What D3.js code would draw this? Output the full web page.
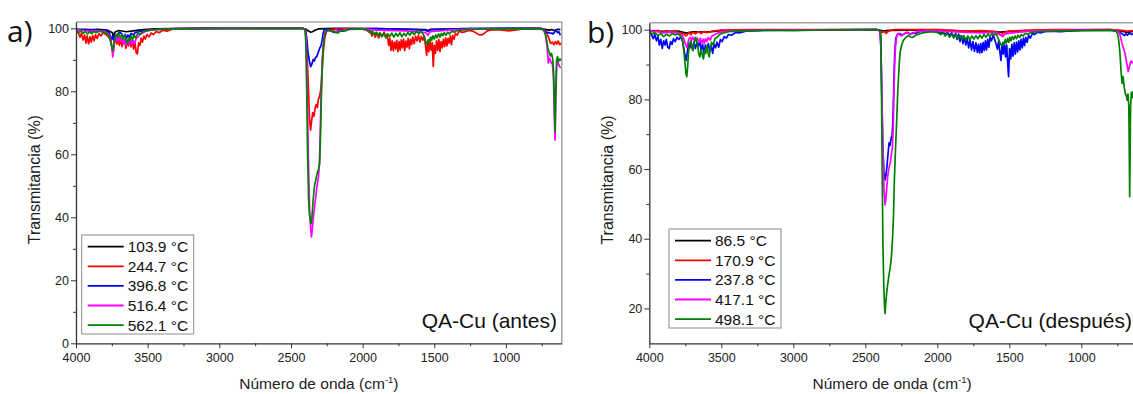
<!DOCTYPE html>
<html>
<head>
<meta charset="utf-8">
<script src="https://cdn.jsdelivr.net/npm/d3@7"></script>
<style>
  body { margin: 0; background: #fff; }
  svg { display: block; }
</style>
</head>
<body>
<svg id="chart" width="1133" height="394"></svg>
<script>
// ---- data (wavenumber cm-1, transmittance %) ----
const colors = ['#000000', '#ff0000', '#0000ff', '#ff00ff', '#008000'];
const labelsA = ['103.9 °C', '244.7 °C', '396.8 °C', '516.4 °C', '562.1 °C'];
const labelsB = ['86.5 °C', '170.9 °C', '237.8 °C', '417.1 °C', '498.1 °C'];
const xTicks = [4000, 3500, 3000, 2500, 2000, 1500, 1000];
const xMinor = [3750, 3250, 2750, 2250, 1750, 1250, 750];
const yTicksA = [0, 20, 40, 60, 80, 100];
const yMinorA = [10, 30, 50, 70, 90];
const yTicksB = [20, 40, 60, 80, 100];
const yMinorB = [30, 50, 70, 90];

// panel a) QA-Cu (antes)
const a103 = [[4000,99.6],[3950,99.7],[3900,99.5],[3850,99.7],[3780,99.4],[3745,98.6],[3737,97.2],[3728,98.8],[3700,99.3],[3650,98.9],[3600,99.2],[3550,99.5],[3450,99.8],[3200,100],[2420,100],[2395,99.7],[2380,99.2],[2365,98.8],[2350,98.9],[2335,99.3],[2310,99.8],[2200,100],[1900,99.9],[1560,99.6],[1545,99.2],[1525,99.7],[1200,99.9],[760,100],[720,99.6],[700,99.4],[680,99.6],[660,99.2],[640,99.7],[620,99.6]];
const a244 = [[4000,99.4],[3985,98.6],[3972,97.2],[3962,98.4],[3950,96.3],[3940,97.9],[3930,95.3],[3922,97.6],[3912,95.1],[3902,97.3],[3893,95.6],[3884,97.7],[3874,96.0],[3864,97.9],[3852,96.8],[3840,98.3],[3826,97.6],[3810,98.6],[3790,98.0],[3772,97.2],[3758,96.0],[3748,93.8],[3740,92.2],[3733,95.4],[3724,96.9],[3715,95.0],[3706,96.7],[3697,94.6],[3688,96.6],[3679,94.2],[3670,96.1],[3661,95.9],[3652,93.6],[3643,96.0],[3634,94.4],[3625,96.4],[3616,94.1],[3607,96.1],[3598,93.4],[3590,95.8],[3580,92.3],[3572,91.9],[3563,95.4],[3554,94.6],[3545,96.9],[3536,95.6],[3526,97.5],[3516,96.6],[3505,98.0],[3490,97.3],[3475,98.5],[3460,98.0],[3440,99.0],[3420,98.6],[3395,99.4],[3365,99.1],[3330,99.7],[3200,99.9],[3000,100],[2420,100],[2398,99.5],[2388,93],[2378,81],[2370,71],[2363,67.7],[2356,70.5],[2348,73.2],[2340,72.0],[2332,74.5],[2324,75.8],[2316,74.9],[2308,77.6],[2300,78.4],[2293,80.2],[2286,84],[2279,89],[2272,93.8],[2263,97.2],[2252,98.9],[2230,99.6],[2180,99.8],[2050,99.9],[1975,99.6],[1960,98.9],[1948,99.4],[1935,97.6],[1925,98.8],[1912,97.2],[1900,98.6],[1888,96.9],[1876,98.3],[1862,97.5],[1850,98.8],[1838,97.0],[1828,98.2],[1818,94.6],[1810,96.8],[1802,93.0],[1794,96.0],[1786,92.8],[1778,95.6],[1770,93.4],[1762,96.2],[1754,92.6],[1746,95.8],[1738,93.1],[1730,96.3],[1722,93.8],[1714,96.6],[1706,92.9],[1698,95.9],[1690,94.0],[1682,96.8],[1674,93.5],[1666,96.5],[1658,94.8],[1650,97.2],[1640,95.1],[1630,97.5],[1620,96.0],[1610,97.8],[1600,95.6],[1590,97.4],[1580,96.2],[1570,97.6],[1560,94.0],[1553,91.4],[1546,95.8],[1538,92.6],[1530,96.2],[1522,93.1],[1514,95.4],[1507,87.9],[1500,94.6],[1492,92.0],[1484,96.0],[1476,93.0],[1468,96.4],[1460,92.6],[1452,95.8],[1444,93.8],[1436,96.6],[1428,94.2],[1420,97.0],[1412,94.4],[1404,96.8],[1396,95.3],[1388,97.6],[1380,94.8],[1372,97.8],[1362,96.5],[1352,98.4],[1340,97.8],[1328,99.0],[1300,98.7],[1260,99.3],[1230,99.1],[1210,98.6],[1190,98.0],[1170,97.9],[1150,98.4],[1130,99.2],[1100,99.5],[1050,99.6],[980,99.2],[940,99.4],[880,99.8],[760,99.9],[730,99.5],[715,98.6],[700,96.8],[688,95.2],[676,95.6],[665,94.8],[655,95.8],[645,95.0],[635,96.0],[625,94.8],[615,95.3]];
const a396 = [[4000,99.7],[3950,99.5],[3900,99.6],[3850,99.4],[3800,99.3],[3770,98.8],[3760,97.4],[3752,96.4],[3744,97.6],[3736,96.2],[3728,97.8],[3718,96.6],[3708,98.2],[3695,98.8],[3680,98.2],[3668,97.0],[3658,98.1],[3648,96.8],[3638,97.9],[3628,97.2],[3616,98.4],[3600,97.9],[3585,98.7],[3560,98.9],[3520,99.3],[3450,99.7],[3300,99.9],[2420,100],[2398,99.6],[2390,97],[2380,92],[2370,89.3],[2362,87.8],[2354,88.6],[2345,90.1],[2336,89.6],[2328,90.8],[2320,91.0],[2310,92.3],[2300,93.6],[2290,94.5],[2283,96.0],[2276,98.2],[2268,99.5],[2250,99.8],[2225,99.4],[2205,98.8],[2190,98.7],[2175,99.2],[2160,99.6],[2140,99.1],[2120,99.3],[2100,99.8],[1900,99.9],[1700,99.7],[1560,99.4],[1545,99.0],[1530,99.5],[1300,99.9],[800,100],[740,99.8],[725,99.0],[712,98.6],[700,98.7],[690,98.4],[680,98.5],[670,98.2],[660,98.8],[650,99.5],[640,98.6],[630,98.9],[620,97.8]];
const a516 = [[4000,99.5],[3950,99.3],[3900,99.0],[3850,99.2],[3800,99.0],[3770,98.0],[3758,96.5],[3750,94.0],[3744,90.9],[3738,93.5],[3730,96.2],[3720,97.4],[3710,96.0],[3700,97.3],[3690,95.8],[3680,96.8],[3670,95.0],[3660,96.4],[3650,94.6],[3640,96.2],[3630,95.0],[3620,96.5],[3610,94.8],[3600,96.0],[3590,95.2],[3580,96.8],[3565,97.5],[3545,98.3],[3520,98.9],[3480,99.4],[3400,99.7],[3200,99.9],[2420,100],[2400,99.6],[2393,96],[2386,80],[2378,58],[2370,42],[2362,36],[2357,33.8],[2352,36],[2346,39],[2340,41.5],[2334,44],[2328,46],[2322,48.5],[2316,50.5],[2308,53],[2302,56.5],[2296,66],[2290,78],[2282,90],[2272,96.5],[2262,98.8],[2245,99.3],[2220,99.0],[2200,99.2],[2180,98.8],[2160,99.3],[2130,99.6],[2000,99.8],[1900,99.4],[1700,99.2],[1560,98.6],[1545,97.8],[1530,98.9],[1400,99.4],[1200,99.8],[800,99.9],[740,99.6],[725,98.5],[712,94.0],[704,89.0],[695,90.5],[685,89.2],[675,88.5],[668,84],[662,72],[657,64.5],[652,78],[646,88],[638,89.5],[628,88.0],[618,87.4]];
const a562 = [[4000,99.3],[3980,98.6],[3965,99.2],[3950,98.4],[3935,99.0],[3920,98.2],[3905,98.9],[3890,98.3],[3875,99.0],[3860,98.6],[3840,99.1],[3810,98.8],[3785,98.4],[3770,97.6],[3760,96.0],[3752,94.5],[3745,93.0],[3738,94.2],[3730,96.6],[3720,98.0],[3710,97.4],[3700,98.3],[3690,97.0],[3680,98.0],[3670,96.6],[3660,97.8],[3650,96.2],[3642,95.2],[3634,96.8],[3625,96.0],[3615,97.6],[3605,96.4],[3595,97.8],[3585,97.0],[3570,98.4],[3550,98.2],[3530,99.0],[3500,99.3],[3450,99.6],[3300,99.8],[3100,100],[2420,100],[2402,99.6],[2396,95],[2390,80],[2384,60],[2377,46],[2370,40.5],[2363,38.5],[2358,38.0],[2352,41],[2346,45],[2340,48],[2334,50.5],[2328,51.5],[2322,53],[2314,54.5],[2306,55.5],[2300,57],[2294,66],[2288,78],[2280,90],[2270,96.5],[2258,99.0],[2240,99.5],[2210,99.1],[2190,98.7],[2175,98.5],[2160,99.0],[2140,99.4],[2120,99.2],[2090,99.7],[2000,99.8],[1960,99.3],[1945,98.4],[1932,99.1],[1918,97.9],[1905,98.8],[1892,97.6],[1880,98.6],[1866,97.3],[1852,98.5],[1838,97.0],[1824,98.2],[1810,97.4],[1796,98.5],[1782,97.2],[1768,98.4],[1754,97.5],[1740,98.6],[1726,97.3],[1712,98.4],[1698,97.6],[1684,98.7],[1670,97.8],[1656,98.9],[1640,98.0],[1624,99.0],[1608,98.3],[1592,99.1],[1576,98.0],[1566,96.8],[1558,95.4],[1550,95.0],[1542,96.4],[1534,95.6],[1526,97.2],[1518,96.2],[1510,97.6],[1500,96.6],[1490,97.9],[1480,97.0],[1470,98.2],[1460,97.2],[1450,98.4],[1440,97.6],[1430,98.6],[1418,97.8],[1406,98.8],[1394,98.2],[1380,99.0],[1360,98.8],[1340,99.3],[1300,99.5],[1200,99.7],[1000,99.8],[800,99.9],[740,99.7],[725,98.2],[715,96.0],[706,93.2],[698,92.6],[690,91.2],[682,92.0],[674,90.5],[667,86],[662,76],[657,67.2],[652,80],[646,90.2],[640,91.0],[632,89.5],[624,90.3],[615,89.8]];

// panel b) QA-Cu (después)
const b86 = [[4000,99.7],[3900,99.5],[3800,99.6],[3740,99.0],[3700,99.4],[3600,99.3],[3500,99.7],[3300,99.9],[2420,100],[2370,99.6],[2340,99.8],[2000,99.9],[1800,99.6],[1560,99.3],[1500,99.5],[1300,99.8],[800,100],[720,99.6],[680,99.2],[640,99.5],[600,99.4]];
const b170 = [[4000,99.8],[3970,99.4],[3940,99.8],[3910,99.2],[3880,99.7],[3850,99.3],[3820,99.6],[3790,99.1],[3760,98.8],[3745,98.2],[3735,98.6],[3725,99.2],[3710,98.5],[3700,99.3],[3680,98.8],[3660,99.4],[3640,98.9],[3620,99.5],[3600,99.1],[3560,99.6],[3500,99.9],[3300,100],[2420,100],[2400,99.7],[2385,99.2],[2370,99.5],[2355,98.9],[2340,99.6],[2300,100],[2000,100],[1900,99.8],[1800,99.6],[1700,99.7],[1600,99.5],[1570,99.0],[1560,98.4],[1550,98.7],[1540,99.2],[1500,99.6],[1400,99.8],[1200,100],[800,100],[720,99.8],[680,99.6],[640,99.7],[600,99.6]];
const b237 = [[4000,99.2],[3985,98.6],[3972,97.4],[3962,98.6],[3950,96.8],[3940,98.0],[3930,95.6],[3920,97.2],[3910,94.6],[3900,96.8],[3890,95.6],[3882,97.2],[3872,95.0],[3862,94.6],[3852,96.6],[3842,95.8],[3832,97.4],[3820,96.6],[3808,97.8],[3795,97.2],[3782,98.0],[3768,96.5],[3758,94.0],[3750,92.2],[3744,91.2],[3736,93.4],[3728,96.0],[3718,94.8],[3710,96.4],[3700,94.2],[3690,96.5],[3680,94.6],[3670,96.2],[3660,95.2],[3650,96.8],[3640,94.0],[3630,95.8],[3620,93.2],[3610,95.6],[3600,94.5],[3590,96.0],[3580,93.8],[3570,95.4],[3560,93.2],[3550,95.8],[3540,94.8],[3530,96.4],[3518,95.0],[3506,97.2],[3494,96.6],[3480,98.0],[3465,97.6],[3450,98.6],[3430,98.4],[3400,99.2],[3370,99.1],[3330,99.6],[3200,99.8],[3000,99.9],[2420,100],[2398,99.6],[2392,95],[2386,82],[2378,66],[2370,59],[2362,56.9],[2356,58.5],[2349,61],[2342,64.5],[2335,67.5],[2328,66.8],[2320,69],[2314,69.5],[2308,74],[2302,84],[2296,93],[2288,97.5],[2278,98.6],[2262,98.9],[2245,98.4],[2228,98.8],[2210,99.3],[2190,98.7],[2170,99.1],[2150,98.9],[2120,99.5],[2060,99.7],[2000,99.5],[1975,98.9],[1960,99.4],[1945,98.6],[1930,99.3],[1915,98.4],[1900,99.1],[1885,97.9],[1872,98.9],[1862,97.2],[1852,98.7],[1842,96.6],[1832,98.2],[1822,96.0],[1812,97.8],[1802,95.6],[1792,97.6],[1782,94.8],[1772,97.0],[1762,94.2],[1752,96.6],[1742,93.8],[1732,96.2],[1722,93.5],[1714,95.8],[1706,93.3],[1698,96.0],[1690,93.4],[1682,96.3],[1674,94.0],[1666,96.8],[1658,94.2],[1650,97.2],[1642,95.0],[1634,97.8],[1624,96.8],[1612,98.4],[1600,97.0],[1590,95.6],[1582,94.4],[1574,96.8],[1566,93.8],[1558,91.2],[1550,95.8],[1542,93.0],[1534,96.2],[1526,92.2],[1518,95.6],[1510,89.5],[1505,86.5],[1498,94.6],[1490,91.6],[1482,95.8],[1474,92.4],[1466,96.2],[1458,93.0],[1450,96.4],[1442,93.6],[1434,96.8],[1426,94.2],[1418,97.2],[1410,94.8],[1402,97.6],[1394,95.4],[1386,97.8],[1376,96.4],[1366,98.4],[1354,97.6],[1340,98.9],[1325,98.6],[1305,99.3],[1280,99.1],[1250,99.5],[1200,99.6],[1150,99.4],[1100,99.6],[1000,99.8],[800,99.9],[750,99.6],[730,99.1],[715,98.8],[700,98.3],[690,98.8],[680,98.4],[665,99.0],[650,98.6],[630,99.0],[610,98.8]];
const b417 = [[4000,99.6],[3950,99.4],[3900,99.1],[3850,99.3],[3800,99.0],[3770,98.4],[3758,97.0],[3748,95.8],[3740,95.0],[3734,95.6],[3726,97.2],[3716,97.8],[3706,97.0],[3698,97.9],[3688,97.0],[3676,96.8],[3666,97.6],[3656,96.4],[3646,97.5],[3636,96.2],[3626,97.3],[3618,96.0],[3610,97.4],[3600,96.6],[3590,97.8],[3578,97.0],[3565,98.2],[3545,98.6],[3520,99.1],[3480,99.5],[3400,99.7],[3200,99.9],[2420,100],[2398,99.6],[2392,96],[2386,84],[2378,66],[2370,54],[2363,49.7],[2357,51.5],[2350,55],[2344,58],[2338,59.7],[2332,61],[2326,61.8],[2318,64.5],[2312,66],[2306,72],[2302,80],[2297,89],[2290,95.5],[2282,98.0],[2272,98.9],[2260,98.5],[2248,98.2],[2235,98.7],[2220,99.1],[2200,99.0],[2180,98.7],[2160,99.2],[2130,99.5],[2050,99.7],[1900,99.4],[1800,99.2],[1700,99.1],[1600,99.2],[1560,98.5],[1545,98.0],[1530,98.8],[1450,99.2],[1350,99.6],[1200,99.8],[800,99.9],[750,99.6],[740,99.2],[731,98.5],[720,96.5],[710,95.0],[697,93.3],[687,91.0],[674,88.0],[665,89.5],[655,91.0],[645,90.5],[630,91.0],[615,90.2]];
const b498 = [[4000,99.3],[3980,98.8],[3960,99.1],[3940,98.3],[3920,98.9],[3900,98.0],[3880,98.7],[3860,98.2],[3840,98.9],[3820,98.5],[3800,98.8],[3780,98.0],[3768,96.8],[3758,93.0],[3750,89.5],[3745,87.2],[3740,86.5],[3734,89.0],[3728,93.5],[3720,95.8],[3712,96.8],[3704,95.2],[3696,94.0],[3688,96.2],[3680,97.8],[3672,97.0],[3664,95.4],[3656,93.0],[3648,92.2],[3640,94.4],[3632,92.8],[3624,91.6],[3616,94.0],[3608,93.2],[3600,95.4],[3592,93.4],[3584,92.2],[3576,94.6],[3568,96.4],[3556,95.6],[3544,97.4],[3530,97.8],[3512,98.6],[3490,99.0],[3450,99.4],[3400,99.6],[3200,99.8],[3000,99.7],[2800,99.9],[2420,100],[2398,99.8],[2392,99],[2388,85],[2383,60],[2378,40],[2372,27],[2367,21],[2363,18.6],[2358,21.5],[2352,24.3],[2346,26.5],[2340,28.2],[2334,30],[2328,31.5],[2322,33.5],[2317,35.8],[2311,40],[2305,45.4],[2298,57],[2290,66],[2282,74],[2274,83],[2266,89],[2259,93.2],[2248,95.6],[2236,96.9],[2222,97.6],[2213,98.0],[2200,98.3],[2185,97.9],[2170,97.8],[2155,98.3],[2135,98.6],[2110,99.0],[2080,99.2],[2040,99.4],[2000,99.2],[1975,98.6],[1960,99.1],[1945,98.2],[1930,98.9],[1915,97.8],[1900,98.7],[1886,97.6],[1872,98.6],[1858,97.4],[1844,98.4],[1830,97.2],[1816,98.3],[1802,97.0],[1788,98.2],[1774,97.1],[1760,98.2],[1746,97.3],[1732,98.3],[1718,97.4],[1704,98.4],[1690,97.6],[1676,98.6],[1662,97.8],[1648,98.8],[1634,98.0],[1620,99.0],[1606,98.4],[1592,98.9],[1578,97.6],[1568,96.6],[1560,95.8],[1552,95.3],[1544,96.4],[1536,95.8],[1528,97.2],[1520,96.2],[1512,97.5],[1504,96.4],[1496,97.8],[1488,96.8],[1480,98.0],[1470,97.2],[1460,98.2],[1450,97.4],[1440,98.4],[1428,97.8],[1416,98.6],[1404,98.2],[1390,98.9],[1370,98.7],[1350,99.2],[1300,99.4],[1200,99.6],[1000,99.7],[800,99.8],[760,99.6],[748,98.8],[741,97.2],[732,93.5],[724,88.2],[717,84.6],[710,86.5],[702,83.5],[694,81.6],[686,80.8],[682,79.8],[676,81.5],[670,78],[667,66],[664,52.1],[661,64],[658,78],[652,82],[646,80.5],[640,82.2],[630,81.0],[620,81.8],[610,80.6]];

const seriesA = [a103, a244, a396, a516, a562];
const seriesB = [b86, b170, b237, b417, b498];

const FONT = 'Liberation Sans, Arial, Helvetica, sans-serif';
const svg = d3.select('#chart');

function drawPanel(p) {
  const x = d3.scaleLinear().domain([4000, p.xEnd]).range([p.left, p.right]);
  const y = d3.scaleLinear().domain(p.yDomain).range([p.bottom, p.top]);

  const g = svg.append('g');

  g.append('clipPath').attr('id', p.id + '-clip')
    .append('rect')
    .attr('x', p.left).attr('y', p.top)
    .attr('width', p.right - p.left).attr('height', p.bottom - p.top);

  // frame (top + right in grey)
  g.append('path')
    .attr('d', 'M' + p.left + ',' + p.top + 'H' + p.right + 'V' + p.bottom)
    .attr('fill', 'none')
    .attr('stroke', '#a6a6a6')
    .attr('stroke-width', 1.5);

  const line = d3.line()
    .x(function (d) { return x(d[0]); })
    .y(function (d) { return y(d[1]); });

  g.append('g')
    .attr('clip-path', 'url(#' + p.id + '-clip)')
    .selectAll('path')
    .data(p.series)
    .enter().append('path')
    .attr('d', function (d) { return line(d); })
    .attr('fill', 'none')
    .attr('stroke', function (d, i) { return colors[i]; })
    .attr('stroke-width', 1.7)
    .attr('stroke-linejoin', 'round');

  // axes
  const xAxis = g.append('g')
    .attr('transform', 'translate(0,' + p.bottom + ')')
    .call(d3.axisBottom(x).tickValues(xTicks).tickFormat(d3.format('d'))
      .tickSize(5).tickSizeOuter(0).tickPadding(5));
  g.append('g')
    .attr('transform', 'translate(0,' + p.bottom + ')')
    .call(d3.axisBottom(x).tickValues(xMinor).tickFormat('').tickSize(3).tickSizeOuter(0))
    .select('.domain').remove();

  const yAxis = g.append('g')
    .attr('transform', 'translate(' + p.left + ',0)')
    .call(d3.axisLeft(y).tickValues(p.yTicks).tickSize(5).tickSizeOuter(0).tickPadding(2));
  g.append('g')
    .attr('transform', 'translate(' + p.left + ',0)')
    .call(d3.axisLeft(y).tickValues(p.yMinor).tickFormat('').tickSize(3).tickSizeOuter(0))
    .select('.domain').remove();

  g.selectAll('.domain').attr('stroke', '#333').attr('stroke-width', 1.3);
  g.selectAll('.tick line').attr('stroke', '#333');
  [xAxis, yAxis].forEach(function (a) {
    a.selectAll('text').attr('font-family', FONT).attr('font-size', 12.5).attr('fill', '#222');
  });

  // axis titles
  const xt = g.append('text')
    .attr('x', (p.left + p.right) / 2 + p.xTitleShift)
    .attr('y', 389)
    .attr('text-anchor', 'middle')
    .attr('font-family', FONT).attr('font-size', 15.5).attr('fill', '#222');
  xt.append('tspan').text('Número de onda (cm');
  xt.append('tspan').attr('font-size', 9.5).attr('dy', -6).text('-1');
  xt.append('tspan').attr('dy', 6).text(')');

  g.append('text')
    .attr('transform', 'translate(' + p.yTitleX + ',' + ((p.top + p.bottom) / 2 - 3) + ') rotate(-90)')
    .attr('text-anchor', 'middle')
    .attr('font-family', FONT).attr('font-size', 16).attr('fill', '#222')
    .text('Transmitancia (%)');

  // panel letter
  g.append('text')
    .attr('x', p.letterX).attr('y', p.letterY)
    .attr('font-family', 'Open Sans, DejaVu Sans, sans-serif')
    .attr('font-size', 30).attr('fill', '#111')
    .text(p.letter);

  // sample name
  g.append('text')
    .attr('x', p.nameX).attr('y', 328)
    .attr('text-anchor', 'end')
    .attr('font-family', FONT).attr('font-size', 21).attr('fill', '#111')
    .text(p.name);

  // legend
  const lg = g.append('g').attr('transform', 'translate(' + p.legX + ',' + p.legY + ')');
  lg.append('rect')
    .attr('width', 112).attr('height', 99)
    .attr('fill', '#fff').attr('stroke', '#8c8c8c').attr('stroke-width', 1);
  const row = lg.selectAll('.row')
    .data(p.labels)
    .enter().append('g')
    .attr('class', 'row')
    .attr('transform', function (d, i) { return 'translate(0,' + (11.7 + i * 19.6) + ')'; });
  row.append('line')
    .attr('x1', 6).attr('x2', 42)
    .attr('stroke', function (d, i) { return colors[i]; })
    .attr('stroke-width', 1.8);
  row.append('text')
    .attr('x', 46).attr('dy', '0.36em')
    .attr('font-family', FONT).attr('font-size', 15.5).attr('fill', '#111')
    .text(function (d) { return d; });
}

drawPanel({
  id: 'a', series: seriesA, labels: labelsA,
  left: 76, right: 561.8, top: 22, bottom: 343.3, xEnd: 610,
  yDomain: [0, 102], yTicks: yTicksA, yMinor: yMinorA,
  xTitleShift: 0, yTitleX: 40, letter: 'a)', letterX: 7, letterY: 42,
  name: 'QA-Cu (antes)', nameX: 557, legX: 81.7, legY: 235
});

drawPanel({
  id: 'b', series: seriesB, labels: labelsB,
  left: 649.3, right: 1138.9, top: 22.7, bottom: 343.3, xEnd: 600,
  yDomain: [10, 102], yTicks: yTicksB, yMinor: yMinorB,
  xTitleShift: -2, yTitleX: 613, letter: 'b)', letterX: 587, letterY: 43,
  name: 'QA-Cu (después)', nameX: 1132, legX: 669, legY: 229
});
</script>
</body>
</html>
